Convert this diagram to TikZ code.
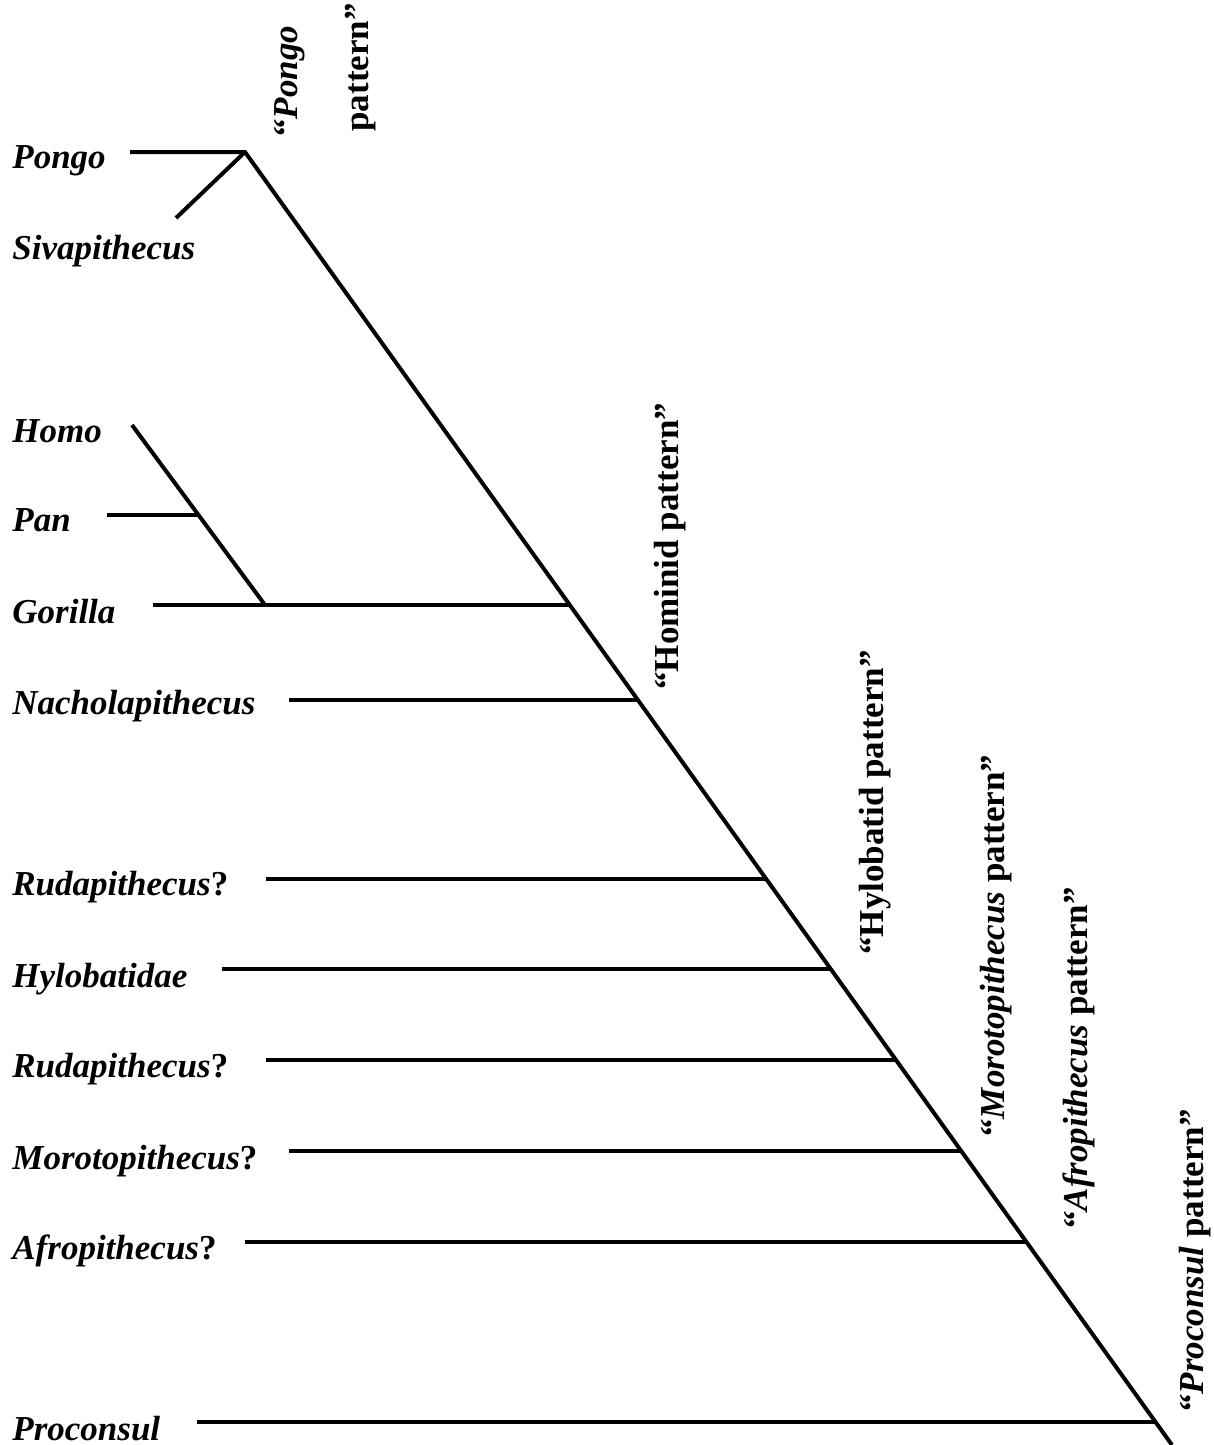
\documentclass[tikz,border=0pt]{standalone}
\usepackage{fontspec}
\setmainfont{Liberation Serif}
\begin{document}
\begin{tikzpicture}[x=0.5pt,y=-0.5pt,
  taxon/.style={anchor=base west,inner sep=0pt,font=\fontsize{17.5}{21}\selectfont\bfseries\itshape},
  pat/.style={anchor=base west,inner sep=0pt,rotate=90,font=\fontsize{17.5}{21}\selectfont\bfseries},
  branch/.style={line width=2pt,line cap=butt}]
\useasboundingbox (0,0) rectangle (1214,1445);
% taxon labels
\node[taxon] (pongo) at (12,169) {Pongo};
\node[taxon] (siva) at (12,259) {Sivapithecus};
\node[taxon] (homo) at (12,442) {Homo};
\node[taxon] (pan) at (12,531) {Pan};
\node[taxon] (gor) at (12,623) {Gorilla};
\node[taxon] (nach) at (12,714) {Nacholapithecus};
\node[taxon] (ruda) at (12,895) {Rudapithecus\upshape?};
\node[taxon] (hylo) at (12,987) {Hylobatidae};
\node[taxon] (rudb) at (12,1077) {Rudapithecus\upshape?};
\node[taxon] (moro) at (12,1169) {Morotopithecus\upshape?};
\node[taxon] (afro) at (12,1259) {Afropithecus\upshape?};
\node[taxon] (proc) at (12,1440) {Proconsul};
% pattern labels
\node[pat] (ppat1) at (297,137) {“\textit{Pongo}};
\node[pat] (ppat2) at (368,132) {pattern”};
\node[pat] (hompat) at (678,690) {“Hominid pattern”};
\node[pat] (hylpat) at (883,955) {“Hylobatid pattern”};
\node[pat] (morpat) at (1004,1137) {“\textit{Morotopithecus} pattern”};
\node[pat] (afrpat) at (1087,1229) {“\textit{Afropithecus} pattern”};
\node[pat] (propat) at (1203,1412) {“\textit{Proconsul} pattern”};
% coordinates
\coordinate (apex) at (245,152);
\coordinate (bottom) at (1172,1445);
\coordinate (pongoS) at (130,152);
\coordinate (sivaS) at (176,218);
\coordinate (homoS) at (132,425);
\coordinate (panS) at (107,515);
\coordinate (panJ) at (198,515);
\coordinate (gorJ) at (265,605);
\coordinate (gorS) at (153,605);
\coordinate (jG) at (570,605);
\coordinate (nachS) at (289,700);
\coordinate (jN) at (638,700);
\coordinate (rudaS) at (266,879);
\coordinate (jRa) at (766,879);
\coordinate (hyloS) at (222,969);
\coordinate (jH) at (831,969);
\coordinate (rudbS) at (266,1060);
\coordinate (jRb) at (896,1060);
\coordinate (moroS) at (289,1151);
\coordinate (jM) at (961,1151);
\coordinate (afroS) at (245,1242);
\coordinate (jA) at (1026,1242);
\coordinate (procS) at (197,1422);
\coordinate (jP) at (1155,1422);
% branches
\draw[branch] (pongoS) -- (apex) -- (bottom);
\draw[branch] (sivaS) -- (apex);
\draw[branch] (homoS) -- (gorJ);
\draw[branch] (panS) -- (panJ);
\draw[branch] (gorS) -- (jG);
\draw[branch] (nachS) -- (jN);
\draw[branch] (rudaS) -- (jRa);
\draw[branch] (hyloS) -- (jH);
\draw[branch] (rudbS) -- (jRb);
\draw[branch] (moroS) -- (jM);
\draw[branch] (afroS) -- (jA);
\draw[branch] (procS) -- (jP);
\end{tikzpicture}
\end{document}
